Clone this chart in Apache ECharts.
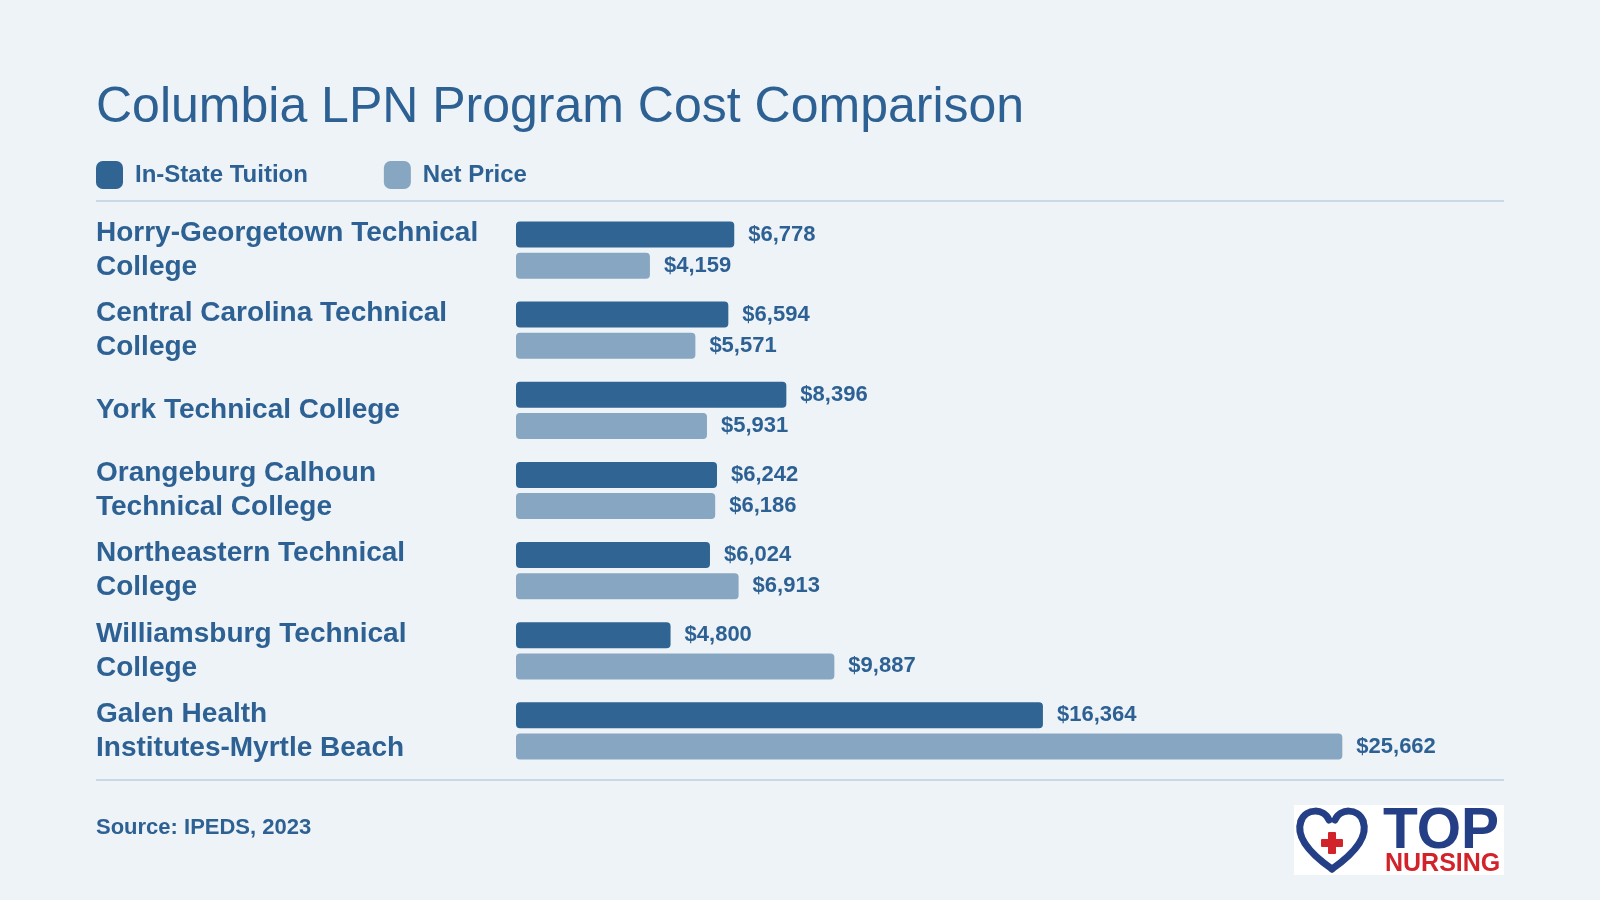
<!DOCTYPE html>
<html>
<head>
<meta charset="utf-8">
<title>Columbia LPN Program Cost Comparison</title>
<script src="https://cdn.jsdelivr.net/npm/echarts@6/dist/echarts.min.js"></script>
<style>
    html, body { margin: 0; padding: 0; background: #eef3f7; }
    #chart { width: 1600px; height: 900px; }
</style>
</head>
<body>
<div id="chart"></div>
<script>
// schools, top to bottom
const schools = [
    'Horry-Georgetown Technical\nCollege',
    'Central Carolina Technical\nCollege',
    'York Technical College',
    'Orangeburg Calhoun\nTechnical College',
    'Northeastern Technical\nCollege',
    'Williamsburg Technical\nCollege',
    'Galen Health\nInstitutes-Myrtle Beach'
];
const inStateTuition = [6778, 6594, 8396, 6242, 6024, 4800, 16364];
const netPrice = [4159, 5571, 5931, 6186, 6913, 9887, 25662];

const seriesNames = ['In-State Tuition', 'Net Price'];

const textColor = '#2d6193';
const darkBlue = '#2f6493';
const lightBlue = '#87a6c1';
const ruleColor = '#c9d8e6';
const logoNavy = '#243f86';
const logoRed = '#d2232a';
const fontFamily = '"Liberation Sans", Arial, Helvetica, sans-serif';

const chart = echarts.init(document.getElementById('chart'));

function money(v) {
    return '$' + v.toLocaleString('en-US');
}

function barSeries(name, data, color) {
    return {
        name: name,
        type: 'bar',
        data: data,
        barWidth: 26,
        barGap: '20%',
        itemStyle: { color: color, borderRadius: 4 },
        label: {
            show: true,
            position: 'right',
            distance: 14,
            color: textColor,
            fontFamily: fontFamily,
            fontWeight: 'bold',
            fontSize: 22,
            padding: [2, 0, 0, 0],
            formatter: (p) => money(p.value)
        }
    };
}

// heart outline pieces for the logo
function curve(x1, y1, cx1, cy1, cx2, cy2, x2, y2) {
    return {
        type: 'bezierCurve',
        shape: { x1: x1, y1: y1, cpx1: cx1, cpy1: cy1, cpx2: cx2, cpy2: cy2, x2: x2, y2: y2 },
        style: { stroke: logoNavy, lineWidth: 7, lineCap: 'round', fill: null }
    };
}

chart.setOption({
    backgroundColor: '#eef3f7',
    animation: false,
    title: {
        text: 'Columbia LPN Program Cost Comparison',
        left: 96,
        top: 83,
        padding: 0,
        textStyle: {
            color: textColor,
            fontFamily: fontFamily,
            fontWeight: 'normal',
            fontSize: 50
        }
    },
    legend: {
        left: 96,
        top: 161,
        padding: 0,
        icon: 'roundRect',
        itemWidth: 27,
        itemHeight: 28,
        itemGap: 76,
        data: seriesNames,
        textStyle: {
            color: textColor,
            fontFamily: fontFamily,
            fontWeight: 'bold',
            fontSize: 24,
            padding: [0, 0, 0, 7]
        }
    },
    grid: {
        left: 516,
        right: 118,
        top: 210,
        bottom: 129,
        containLabel: false
    },
    xAxis: {
        type: 'value',
        min: 0,
        max: 30000,
        show: false
    },
    yAxis: {
        type: 'category',
        data: schools,
        inverse: true,
        axisLine: { show: false },
        axisTick: { show: false },
        axisLabel: {
            align: 'left',
            margin: 420,
            color: textColor,
            fontFamily: fontFamily,
            fontWeight: 'bold',
            fontSize: 28,
            lineHeight: 34,
            padding: [8, 0, 0, 0]
        }
    },
    series: [
        barSeries(seriesNames[0], inStateTuition, darkBlue),
        barSeries(seriesNames[1], netPrice, lightBlue)
    ],
    graphic: [
        // dividers
        { type: 'line', shape: { x1: 96, y1: 201, x2: 1504, y2: 201 }, style: { stroke: ruleColor, lineWidth: 2 } },
        { type: 'line', shape: { x1: 96, y1: 780, x2: 1504, y2: 780 }, style: { stroke: ruleColor, lineWidth: 2 } },
        {
            type: 'text', x: 96, y: 817,
            style: { text: 'Source: IPEDS, 2023', fill: textColor, font: 'bold 22px ' + fontFamily }
        },
        // logo
        { type: 'rect', shape: { x: 1294, y: 805, width: 210, height: 70 }, style: { fill: '#ffffff' } },
        curve(1332, 869, 1302, 848, 1297, 832, 1301, 821),
        curve(1301, 821, 1306, 808, 1324, 808, 1329, 820),
        curve(1332, 869, 1362, 848, 1367, 832, 1363, 821),
        curve(1363, 821, 1358, 808, 1340, 808, 1335, 820),
        { type: 'rect', shape: { x: 1321, y: 839, width: 22, height: 8, r: 1 }, style: { fill: logoRed } },
        { type: 'rect', shape: { x: 1328, y: 832, width: 8, height: 22, r: 1 }, style: { fill: logoRed } },
        {
            type: 'text', x: 1383, y: 804,
            style: { text: 'TOP', fill: logoNavy, font: 'bold 57px ' + fontFamily }
        },
        {
            type: 'text', x: 1385, y: 852,
            style: { text: 'NURSING', fill: logoRed, font: 'bold 25px ' + fontFamily }
        }
    ]
});
</script>
</body>
</html>
